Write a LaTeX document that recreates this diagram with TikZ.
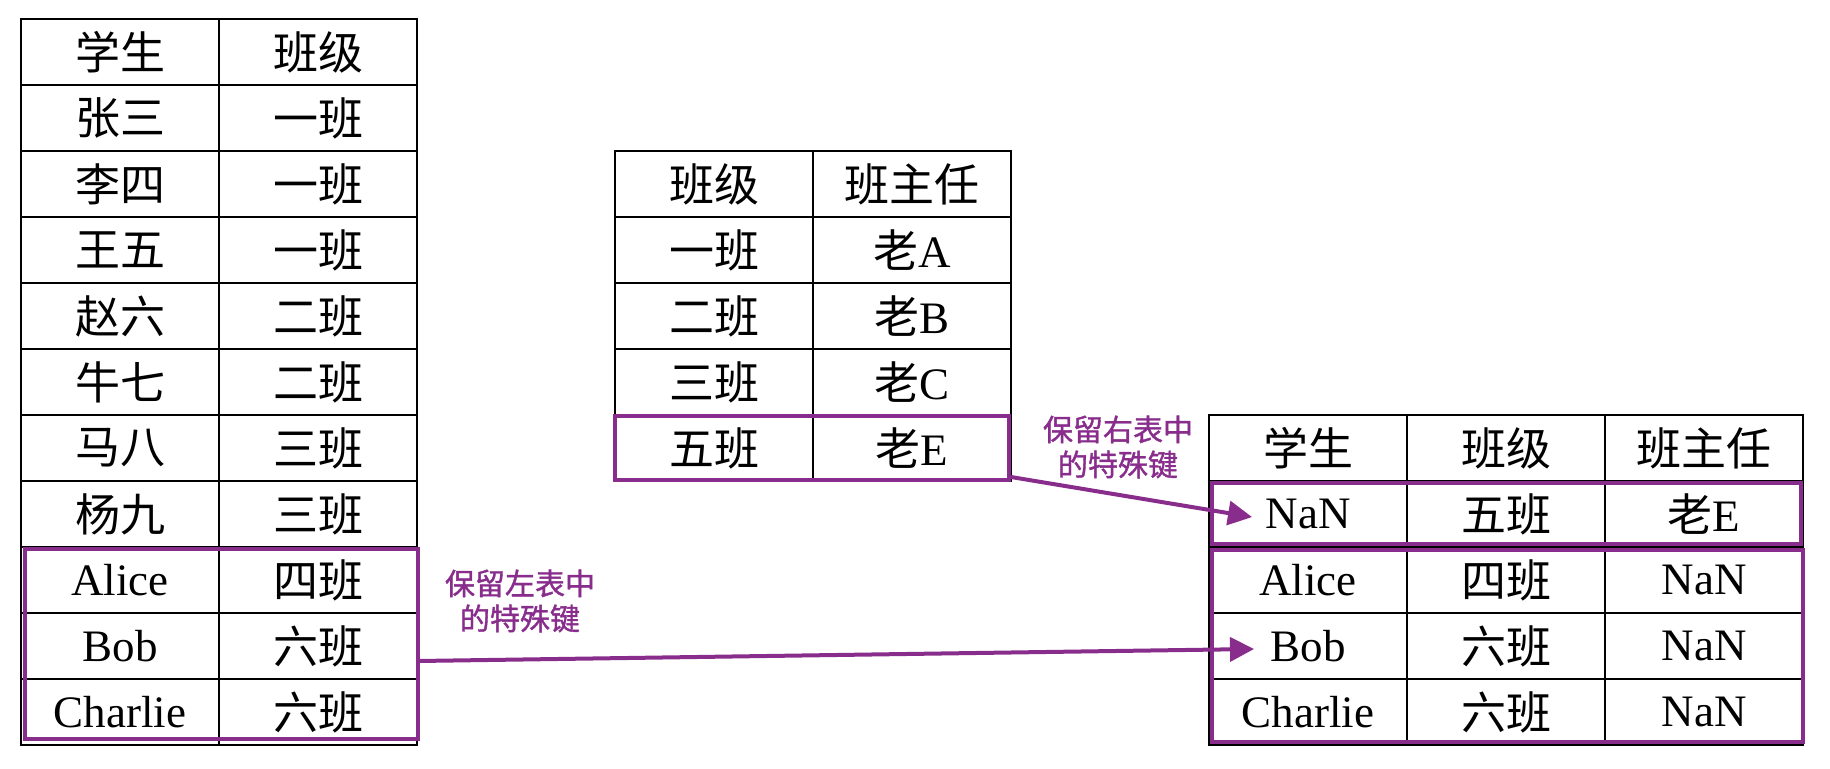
\documentclass[tikz,border=0pt]{standalone}
\usepackage{fontspec}
\setmainfont{Liberation Serif}
\newfontfamily\zhfont{Noto Sans CJK SC}
\newfontfamily\notefont[FakeBold=1.2]{Noto Sans CJK SC}
\newcommand{\zh}[1]{{\zhfont #1}}
\usetikzlibrary{arrows.meta}
\definecolor{keypurple}{RGB}{136,45,140}

\begin{document}
\begin{tikzpicture}[x=0.5pt,y=-0.5pt,
    cell/.style={draw,line width=1.2pt,outer sep=0pt,inner sep=0pt,
                 minimum width=99pt,minimum height=33pt,
                 font=\fontsize{22.5}{27}\selectfont},
    keybox/.style={draw=keypurple,line width=2pt},
    keyarrow/.style={keypurple,line width=2pt,-{Triangle[length=12pt,width=12pt]}},
    note/.style={align=center,text=keypurple,font=\notefont\fontsize{15}{17.5}\selectfont}]
  \useasboundingbox (0,0) rectangle (1830,768);

  % left table
  \foreach \stu/\cls [count=\i] in {\zh{学生}/\zh{班级}, \zh{张三}/\zh{一班},
      \zh{李四}/\zh{一班}, \zh{王五}/\zh{一班}, \zh{赵六}/\zh{二班},
      \zh{牛七}/\zh{二班}, \zh{马八}/\zh{三班}, \zh{杨九}/\zh{三班},
      Alice/\zh{四班}, Bob/\zh{六班}, Charlie/\zh{六班}}{
    \node[cell] (L\i-1) at (120,{52+66*(\i-1)}) {\stu};
    \node[cell] (L\i-2) at (318,{52+66*(\i-1)}) {\cls};
  }

  % right table
  \foreach \cls/\tch [count=\i] in {\zh{班级}/\zh{班主任}, \zh{一班}/\zh{老}A,
      \zh{二班}/\zh{老}B, \zh{三班}/\zh{老}C, \zh{五班}/\zh{老}E}{
    \node[cell] (M\i-1) at (714,{184+66*(\i-1)}) {\cls};
    \node[cell] (M\i-2) at (912,{184+66*(\i-1)}) {\tch};
  }

  % merged table
  \foreach \stu/\cls/\tch [count=\i] in {\zh{学生}/\zh{班级}/\zh{班主任},
      NaN/\zh{五班}/\zh{老}E, Alice/\zh{四班}/NaN, Bob/\zh{六班}/NaN,
      Charlie/\zh{六班}/NaN}{
    \node[cell] (R\i-1) at (1308,{448+66*(\i-1)}) {\stu};
    \node[cell] (R\i-2) at (1506,{448+66*(\i-1)}) {\cls};
    \node[cell] (R\i-3) at (1704,{448+66*(\i-1)}) {\tch};
  }

  % special keys
  \draw[keybox] ([shift={(4,2)}]L9-1.north west) rectangle ([shift={(1,-6)}]L11-2.south east);
  \draw[keybox] ([shift={(0,1)}]M5-1.north west) rectangle ([shift={(-2,-1)}]M5-2.south east);
  \draw[keybox] ([shift={(3,2)}]R2-1.north west) rectangle ([shift={(-2,-3)}]R2-3.south east);
  \draw[keybox] ([shift={(3,3)}]R3-1.north west) rectangle ([shift={(0,-3)}]R5-3.south east);

  \draw[keyarrow] ([shift={(0,-4)}]M5-2.south east) -- ([shift={(-56,3)}]R2-1.center);
  \draw[keyarrow] ([shift={(0,15)}]L10-2.east) -- ([shift={(-54,3)}]R4-1.center);

  \node[note] (keepL) at (520,601) {保留左表中\\的特殊键};
  \node[note] (keepR) at (1118,447) {保留右表中\\的特殊键};
\end{tikzpicture}
\end{document}
